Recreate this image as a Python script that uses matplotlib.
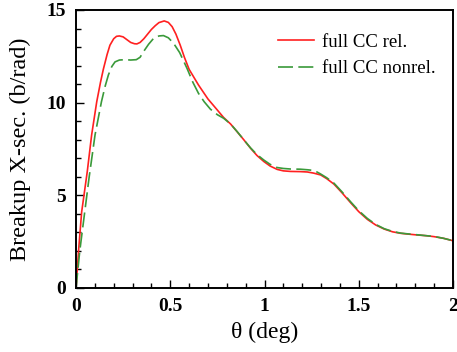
import matplotlib
matplotlib.use("Agg")
import matplotlib.pyplot as plt
from matplotlib.ticker import MultipleLocator

theta_rel = [0.0, 0.015, 0.03, 0.06, 0.083, 0.11, 0.13, 0.145, 0.165, 0.18, 0.2, 0.215, 0.23,
             0.25, 0.27, 0.29, 0.31, 0.323, 0.34, 0.36, 0.38, 0.40, 0.42, 0.44, 0.468, 0.49,
             0.51, 0.53, 0.553, 0.575, 0.60, 0.65, 0.70, 0.75, 0.783, 0.82, 0.854, 0.89,
             0.926, 0.96, 0.997, 1.03, 1.067, 1.10, 1.138, 1.19, 1.227, 1.26, 1.298, 1.33,
             1.369, 1.41, 1.457, 1.50, 1.546, 1.59, 1.635, 1.68, 1.723, 1.77, 1.812, 1.86,
             1.90, 1.95, 2.0]
xs_rel = [0.0, 2.2, 4.1, 6.3, 8.26, 10.05, 11.1, 11.8, 12.6, 13.1, 13.45, 13.58, 13.6,
          13.55, 13.4, 13.25, 13.18, 13.17, 13.25, 13.45, 13.7, 13.95, 14.15, 14.32, 14.41, 14.33,
          14.1, 13.7, 13.1, 12.45, 11.8, 10.95, 10.2, 9.6, 9.2, 8.85, 8.44, 8.0,
          7.54, 7.15, 6.82, 6.58, 6.4, 6.32, 6.29, 6.28, 6.26, 6.2, 6.1, 5.9,
          5.6, 5.15, 4.6, 4.12, 3.7, 3.4, 3.18, 3.03, 2.95, 2.9, 2.86, 2.82,
          2.77, 2.68, 2.55]

theta_nonrel = [0.0, 0.02, 0.045, 0.07, 0.101, 0.135, 0.155, 0.172, 0.19, 0.207, 0.23, 0.26,
                0.29, 0.32, 0.34, 0.358, 0.385, 0.41, 0.44, 0.464, 0.49, 0.518, 0.55, 0.589,
                0.62, 0.65, 0.68, 0.713, 0.75, 0.783, 0.82, 0.854, 0.89, 0.926, 0.96, 0.997,
                1.03, 1.067, 1.10, 1.138, 1.19, 1.227, 1.264, 1.298, 1.33, 1.369, 1.41, 1.457,
                1.50, 1.546, 1.59, 1.635, 1.68, 1.723, 1.77, 1.812, 1.86, 1.90, 1.95, 2.0]
xs_nonrel = [0.0, 2.0, 4.0, 6.0, 8.26, 10.05, 10.9, 11.5, 11.95, 12.2, 12.3, 12.32,
             12.3, 12.32, 12.45, 12.75, 13.15, 13.45, 13.6, 13.62, 13.5, 13.2, 12.7, 11.85,
             11.1, 10.5, 10.05, 9.65, 9.35, 9.16, 8.85, 8.45, 8.0, 7.56, 7.2, 6.9,
             6.67, 6.5, 6.45, 6.42, 6.41, 6.38, 6.34, 6.15, 5.95, 5.65, 5.2, 4.65,
             4.17, 3.75, 3.43, 3.2, 3.05, 2.96, 2.91, 2.87, 2.82, 2.78, 2.68, 2.55]

plt.rcParams['font.family'] = ['Liberation Serif', 'DejaVu Serif']

fig = plt.figure(figsize=(4.57, 3.52), dpi=100)
ax = fig.add_axes([76/457, 64/352, 377/457, 278/352])

ax.plot(theta_rel, xs_rel, color='#ff2020', lw=1.2, label='full CC rel.')
ax.plot(theta_nonrel, xs_nonrel, color='#3a9a3a', lw=1.2, dashes=(9, 3.2), label='full CC nonrel.')

ax.set_xlim(0, 2)
ax.set_ylim(0, 15)
ax.xaxis.set_major_locator(MultipleLocator(0.5))
ax.xaxis.set_minor_locator(MultipleLocator(0.1))
ax.yaxis.set_major_locator(MultipleLocator(5))
ax.yaxis.set_minor_locator(MultipleLocator(1))
ax.tick_params(which='both', direction='in', top=False, right=False, width=1.0)
ax.tick_params(which='major', length=6, labelsize=14, pad=7)
ax.tick_params(which='minor', length=3.5)
ax.set_xticks([0, 0.5, 1, 1.5, 2])
ax.set_xticklabels(['0', '0.5', '1', '1.5', '2'], fontweight='bold')
ax.set_yticks([0, 5, 10, 15])
ax.set_yticklabels(['0', '5', '10', '15'], fontweight='bold')
for s in ax.spines.values():
    s.set_linewidth(1.4)

ax.set_xlabel('θ (deg)', fontsize=17, labelpad=5)
ax.set_ylabel('Breakup X-sec. (b/rad)', fontsize=17.5, labelpad=11)

ax.legend(loc='upper right', frameon=False, fontsize=13.5, handlelength=1.9,
          handletextpad=0.45, labelspacing=0.5, bbox_to_anchor=(1.0, 0.975))

fig.savefig('out.png', dpi=100)
